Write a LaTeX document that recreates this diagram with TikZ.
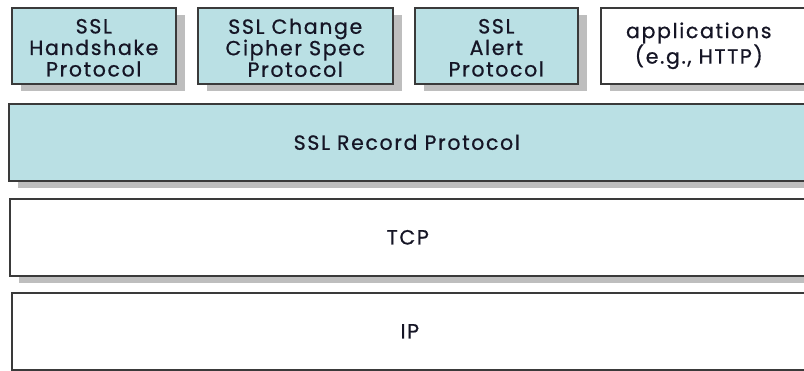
\documentclass[tikz,border=0pt]{standalone}
\usepackage{fontspec}
\setmainfont{Poppins}[LetterSpace=8, FakeBold=0.7]
\usetikzlibrary{shadows}
\definecolor{boxblue}{HTML}{BAE0E4}
\definecolor{edgegray}{HTML}{3A3A3A}
\definecolor{shadgray}{HTML}{BEBEBE}
\definecolor{textcol}{HTML}{151525}
\begin{document}
\begin{tikzpicture}[x=1pt,y=-1pt,
  layerbox/.style={draw=edgegray, line width=1.6pt, anchor=north west, inner sep=0pt,
    align=center, text=textcol, font=\fontsize{20.5}{21.5}\selectfont},
  shadowed/.style={drop shadow={shadow xshift=9pt, shadow yshift=-7pt, fill=shadgray, opacity=1}},
  bluebox/.style={layerbox, shadowed, fill=boxblue},
  whitebox/.style={layerbox, fill=white},
  wlabel/.style={text=textcol, font=\fontsize{20.5}{21.5}\selectfont, align=center}]
\useasboundingbox (0,0) rectangle (804,370);
\clip (0,0) rectangle (804,370);
\fill[white] (0,0) rectangle (804,370);
% top row
\node[bluebox, minimum width=164pt, minimum height=76pt,
  label={[wlabel, yshift=-2pt]center:SSL\\Handshake\\Protocol}] (hs) at (11,7) {};
\node[bluebox, minimum width=195pt, minimum height=76pt,
  label={[wlabel, yshift=-2pt]center:SSL Change\\Cipher Spec\\Protocol}] (ccs) at (197,7) {};
\node[bluebox, minimum width=163pt, minimum height=76pt,
  label={[wlabel, yshift=-2pt]center:SSL\\Alert\\Protocol}] (alert) at (414,7) {};
\node[whitebox, shadowed, minimum width=220pt, minimum height=76pt,
  label={[wlabel, xshift=-12pt]center:applications\\(e.g., HTTP)}] (app) at (600,7) {};
% record layer
\node[bluebox, minimum width=820pt, minimum height=77pt,
  label={[wlabel, xshift=-12pt]center:SSL Record Protocol}] (rec) at (8,103) {};
% TCP
\node[whitebox, shadowed, minimum width=820pt, minimum height=77pt,
  label={[wlabel, xshift=-12pt]center:TCP}] (tcp) at (9,198) {};
% IP
\node[whitebox, minimum width=820pt, minimum height=77pt,
  label={[wlabel, xshift=-12pt]center:IP}] (ip) at (11,292) {};
\end{tikzpicture}
\end{document}
